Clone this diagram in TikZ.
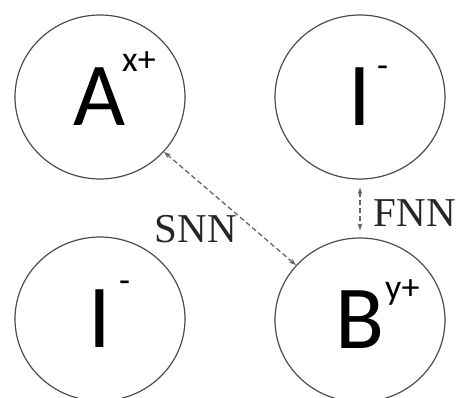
\documentclass[tikz,border=0pt]{standalone}
\usepackage{fontspec}
\usepackage{tikz}
\usetikzlibrary{shapes.geometric}
\usetikzlibrary{arrows.meta}
\usetikzlibrary{positioning}
\newfontfamily\ionfont{Carlito}
\newfontfamily\nnfont{Liberation Serif}
\tikzset{
  Ion/.style={ellipse, draw=black!70, line width=1.2pt, inner sep=0pt,
    minimum width=170pt, minimum height=164pt,
    font={\ionfont\fontsize{90}{90}\selectfont}}, % Ionen-Kreise
  Ladung/.style={inner sep=0pt, anchor=base west,
    font={\ionfont\fontsize{36}{36}\selectfont}}, % Hochgestellte Ladung
  NN/.style={black!60, line width=1.3pt, dash pattern=on 5pt off 3pt,
    {Stealth[length=7pt,width=5pt]}-{Stealth[length=7pt,width=5pt]}},
  NNText/.style={text=black!85, inner sep=0pt,
    font={\nnfont\fontsize{41}{41}\selectfont}}
}

\begin{document}
\begin{tikzpicture}[x=1pt, y=-1pt]
\useasboundingbox (0,0) rectangle (456,398);

%Ionen
\node[Ion] (A)  at (100,97)  {A};
\node[Ion] (I1) at (360,97)  {I};
\node[Ion] (I2) at (100,319) {I};
\node[Ion] (B)  at (360,320) {B};

%Ladungen
\node[Ladung] (Aq)  at (122,72)  {x+};
\node[Ladung] (I1q) at (377,78)  {-};
\node[Ladung] (I2q) at (119,293) {-};
\node[Ladung] (Bq)  at (385,300) {y+};

%Nachbarn
\draw[NN] (A) -- (B);
\draw[NN, shorten <=8pt, shorten >=7pt] (I1) -- (B);

\node[NNText] (snn) at (196,229) {SNN};
\node[NNText] (fnn) at (415,213) {FNN};

\end{tikzpicture}
\end{document}
